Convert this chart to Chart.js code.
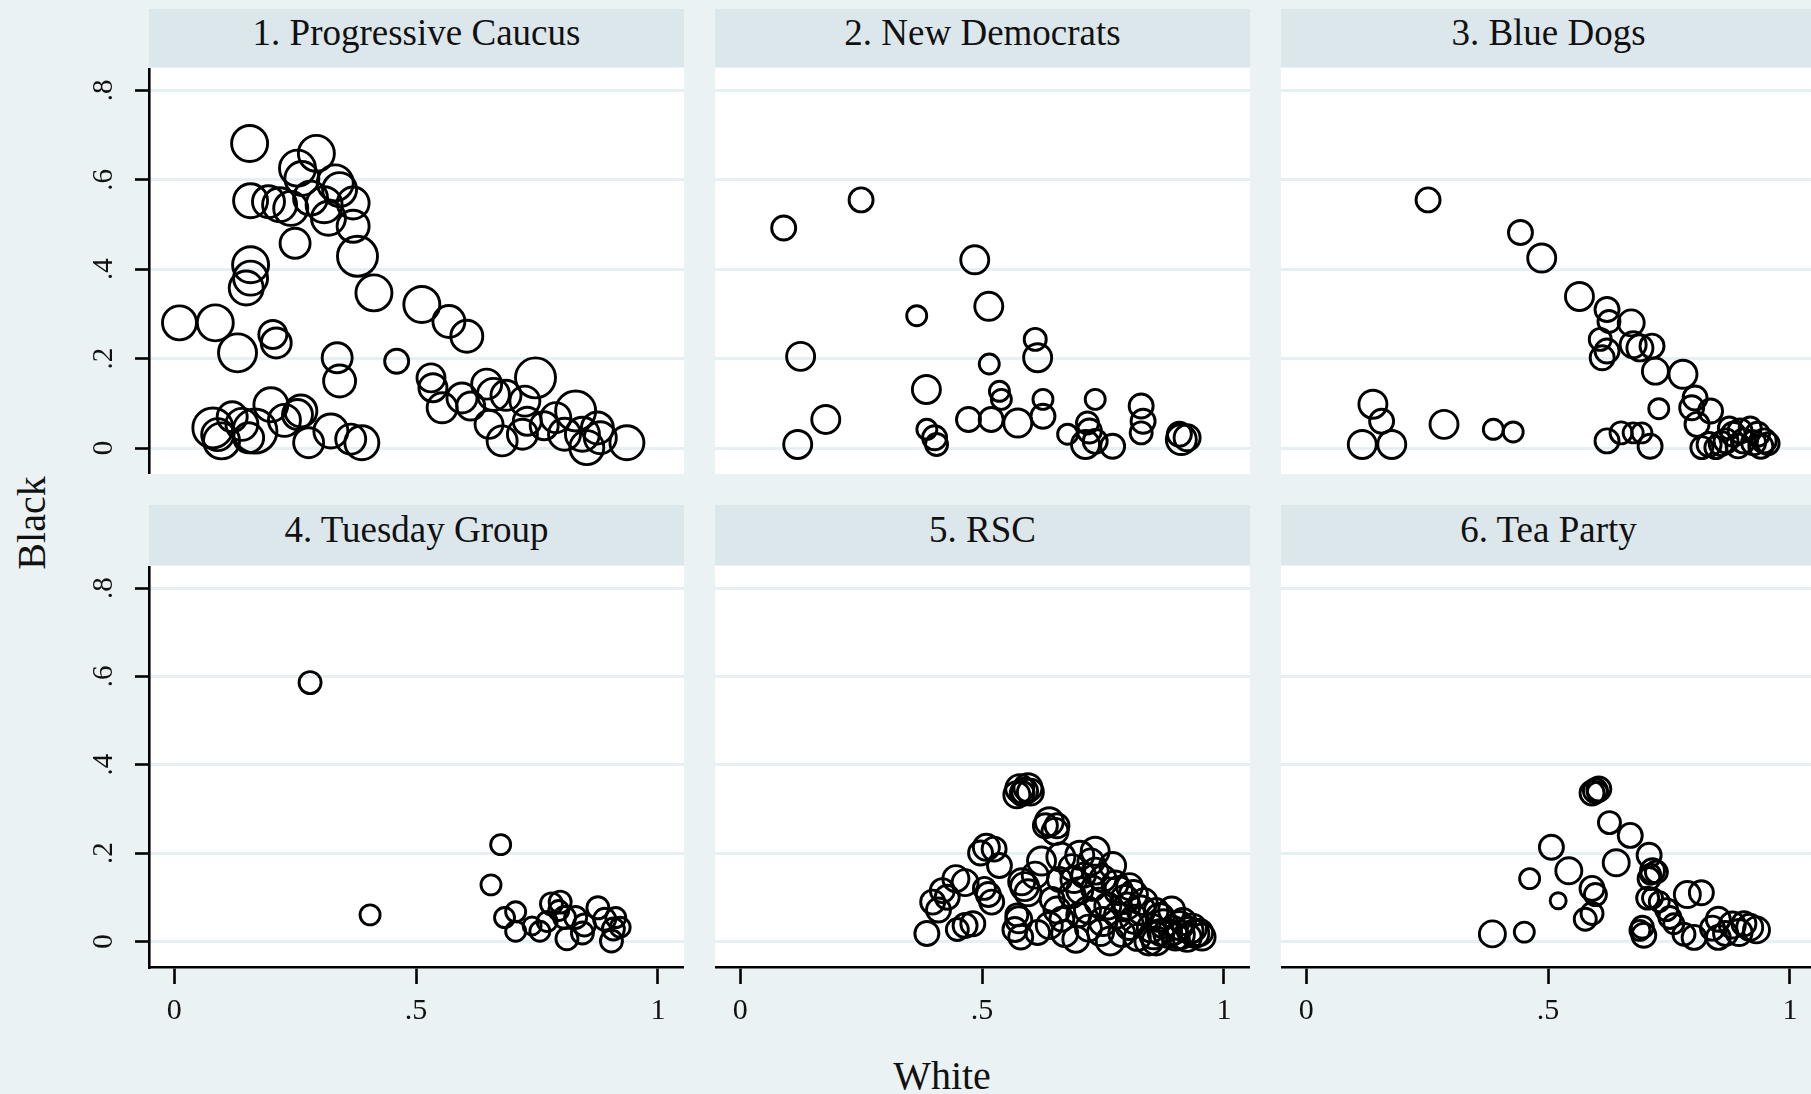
<!DOCTYPE html>
<html><head><meta charset="utf-8">
<script src="https://cdn.jsdelivr.net/npm/chart.js@4.4.0/dist/chart.umd.min.js"></script>
<style>
html,body{margin:0;padding:0;width:1811px;height:1094px;overflow:hidden;background:#EAF2F3;font-family:"Liberation Serif",serif;}
.hdr{position:absolute;background:#DCE7EC;color:#111;text-align:center;font-size:37px;white-space:nowrap;}
.wrap{position:absolute;}
.axt{position:absolute;font-size:40px;line-height:40px;color:#111;white-space:nowrap;}
</style></head><body>
<div class="axt" id="ytitle" style="left:32px;top:523px;transform:translate(-50%,-50%) rotate(-90deg);">Black</div>
<div class="axt" id="xtitle" style="left:942px;top:1056px;transform:translateX(-50%);">White</div>
<script>
// ---------------- data ----------------
const panelTitles = ["1. Progressive Caucus", "2. New Democrats", "3. Blue Dogs", "4. Tuesday Group", "5. RSC", "6. Tea Party"];
const yTickValues = [0, 0.2, 0.4, 0.6, 0.8];
const yTickLabels = ["0", ".2", ".4", ".6", ".8"];
const xTickValues = [0, 0.5, 1];
const xTickLabels = ["0", ".5", "1"];
const xAxisTitle = "White";
const yAxisTitle = "Black";

// 1. Progressive Caucus
const progWhite = [0.156,0.294,0.255,0.264,0.333,0.342,0.158,0.195,0.218,0.241,0.282,0.310,0.370,0.319,0.370,0.250,0.379,0.158,0.158,0.149,0.413,0.011,0.085,0.131,0.204,0.211,0.337,0.342,0.460,0.512,0.568,0.605,0.531,0.535,0.554,0.595,0.646,0.613,0.660,0.747,0.651,0.678,0.720,0.725,0.730,0.789,0.830,0.807,0.844,0.853,0.881,0.936,0.080,0.098,0.090,0.140,0.154,0.167,0.200,0.255,0.262,0.278,0.324,0.365,0.388,0.686,0.765,0.875,0.228,0.120];
const progBlack = [0.681,0.659,0.626,0.603,0.593,0.578,0.553,0.551,0.544,0.536,0.559,0.544,0.548,0.514,0.496,0.458,0.429,0.410,0.380,0.358,0.347,0.280,0.280,0.213,0.254,0.235,0.202,0.150,0.194,0.321,0.283,0.250,0.157,0.135,0.090,0.112,0.143,0.094,0.120,0.157,0.053,0.016,0.031,0.105,0.060,0.068,0.083,0.031,0.031,0.001,0.023,0.012,0.045,0.016,0.030,0.053,0.023,0.038,0.097,0.075,0.083,0.012,0.038,0.020,0.012,0.118,0.050,0.045,0.062,0.070];
const progSize  = [18,18,18,17,18,17,17,16,17,17,17,18,16,17,16,15,20,18,17,17,18,17,18,19,14,15,15,16,12,18,16,16,14,14,15,15,15,14,16,20,14,15,15,15,14,15,20,16,17,17,16,17,20,18,16,16,15,22,17,15,16,15,17,15,17,15,14,16,16,15];

// 2. New Democrats
const newdemWhite = [0.090,0.250,0.485,0.514,0.365,0.125,0.515,0.610,0.615,0.385,0.536,0.540,0.626,0.626,0.177,0.119,0.386,0.402,0.406,0.472,0.519,0.574,0.677,0.718,0.734,0.714,0.734,0.770,0.829,0.833,0.829,0.912,0.908,0.924,0.722];
const newdemBlack = [0.492,0.555,0.421,0.317,0.296,0.205,0.188,0.243,0.202,0.131,0.127,0.109,0.109,0.071,0.064,0.008,0.042,0.023,0.008,0.064,0.064,0.056,0.031,0.056,0.109,0.008,0.015,0.004,0.094,0.060,0.034,0.019,0.031,0.023,0.038];
const newdemSize  = [12,12,14,14,10,14,10,11,14,14,10,10,10,12,14,14,10,12,11,12,12,14,10,11,10,14,12,12,12,12,11,15,12,13,12];

// 3. Blue Dogs
const bluedogWhite = [0.252,0.443,0.487,0.565,0.622,0.626,0.608,0.612,0.622,0.672,0.676,0.690,0.715,0.722,0.779,0.804,0.797,0.836,0.729,0.138,0.156,0.116,0.177,0.285,0.387,0.428,0.622,0.651,0.676,0.694,0.711,0.833,0.868,0.897,0.904,0.933,0.947,0.918,0.883,0.847,0.818,0.940,0.808,0.858,0.893,0.925,0.955,0.875];
const bluedogBlack = [0.555,0.482,0.425,0.339,0.310,0.283,0.243,0.202,0.217,0.280,0.231,0.224,0.228,0.172,0.165,0.112,0.090,0.083,0.088,0.098,0.060,0.008,0.008,0.053,0.042,0.036,0.016,0.034,0.034,0.034,0.004,0.008,0.016,0.038,0.016,0.031,0.016,0.045,0.031,0.001,0.001,0.004,0.053,0.010,0.005,0.012,0.010,0.045];
const bluedogSize  = [12,12,14,14,12,11,11,12,12,13,13,13,12,13,14,12,12,12,10,14,12,14,14,14,10,10,12,11,10,10,12,12,12,12,12,12,12,11,12,11,11,12,12,12,12,12,11,11];

// 4. Tuesday Group
const tuesWhite = [0.281,0.405,0.675,0.655,0.683,0.706,0.706,0.756,0.780,0.798,0.807,0.812,0.830,0.844,0.876,0.890,0.908,0.913,0.904,0.922,0.771,0.848,0.795,0.740];
const tuesBlack = [0.586,0.060,0.219,0.128,0.054,0.067,0.023,0.023,0.085,0.089,0.054,0.006,0.054,0.019,0.076,0.050,0.028,0.054,0.001,0.032,0.045,0.037,0.070,0.035];
const tuesSize  = [11,10,10,10,10,10,10,10,11,11,11,11,11,11,11,11,11,10,11,10,10,11,10,9];

// 5. RSC
const rscWhite = [0.578,0.588,0.595,0.583,0.600,0.572,0.639,0.651,0.631,0.655,0.509,0.525,0.497,0.623,0.663,0.702,0.734,0.770,0.686,0.536,0.446,0.465,0.418,0.398,0.410,0.428,0.513,0.520,0.505,0.588,0.582,0.595,0.465,0.481,0.386,0.449,0.568,0.576,0.580,0.572,0.639,0.655,0.671,0.694,0.645,0.702,0.718,0.742,0.750,0.765,0.782,0.813,0.805,0.829,0.845,0.868,0.884,0.908,0.924,0.940,0.892,0.860,0.821,0.789,0.750,0.805,0.734,0.710,0.760,0.686,0.780,0.720,0.850,0.870,0.900,0.915,0.835,0.730,0.660,0.700,0.800,0.860,0.930,0.950,0.875,0.895,0.910,0.935,0.855,0.815,0.795,0.775,0.725,0.690,0.745,0.665,0.615,0.610,0.955];
const rscBlack = [0.346,0.340,0.348,0.335,0.338,0.332,0.271,0.249,0.262,0.262,0.213,0.209,0.200,0.182,0.191,0.195,0.204,0.172,0.167,0.172,0.142,0.133,0.115,0.089,0.071,0.100,0.106,0.089,0.120,0.124,0.135,0.110,0.036,0.040,0.018,0.027,0.027,0.049,0.010,0.060,0.036,0.071,0.018,0.005,0.095,0.115,0.071,0.089,0.045,0.001,0.115,0.106,0.036,0.071,0.001,0.054,0.018,0.036,0.009,0.018,0.071,0.001,0.009,0.018,0.142,0.124,0.159,0.150,0.080,0.106,0.060,0.030,0.030,0.020,0.010,0.045,0.090,0.120,0.140,0.060,0.080,0.070,0.025,0.020,0.040,0.025,0.015,0.030,0.015,0.050,0.095,0.130,0.180,0.140,0.020,0.050,0.020,0.150,0.010];
const rscSize  = [14,13,14,12,13,13,14,13,12,12,13,12,12,14,14,14,14,13,13,12,13,13,12,12,12,12,12,12,11,14,13,13,12,12,12,11,12,13,12,11,13,13,13,13,12,13,13,14,14,14,14,14,14,14,14,14,14,14,14,14,13,14,13,13,13,13,13,12,13,13,13,13,14,13,13,13,13,12,12,12,13,12,13,13,14,14,14,14,14,14,14,13,13,13,13,12,12,13,13];

// 6. Tea Party
const teaWhite = [0.385,0.451,0.507,0.462,0.543,0.521,0.591,0.598,0.577,0.591,0.598,0.591,0.605,0.602,0.627,0.670,0.641,0.709,0.716,0.724,0.712,0.709,0.706,0.716,0.745,0.752,0.695,0.698,0.690,0.788,0.817,0.781,0.802,0.852,0.852,0.881,0.895,0.917,0.931,0.867,0.840,0.905,0.760,0.730];
const teaBlack = [0.017,0.021,0.213,0.142,0.160,0.092,0.120,0.106,0.050,0.063,0.341,0.336,0.345,0.338,0.269,0.240,0.178,0.195,0.160,0.157,0.152,0.142,0.098,0.098,0.072,0.054,0.032,0.014,0.025,0.106,0.110,0.016,0.009,0.050,0.009,0.037,0.020,0.032,0.026,0.018,0.030,0.040,0.040,0.090];
const teaSize  = [13,10,12,10,13,8,12,11,11,11,12,12,12,10,11,12,13,12,12,11,10,11,11,10,11,11,11,12,10,13,12,11,12,12,12,13,13,13,13,12,12,12,10,10];

const panelWhite = [progWhite, newdemWhite, bluedogWhite, tuesWhite, rscWhite, teaWhite];
const panelBlack = [progBlack, newdemBlack, bluedogBlack, tuesBlack, rscBlack, teaBlack];
const panelSize  = [progSize, newdemSize, bluedogSize, tuesSize, rscSize, teaSize];

// ---------------- layout ----------------
const PLOT_W = 535;
const colLeft = [149, 715, 1281];
const rowTop = [68, 566];
const rowH = [406, 401];
const hdrTop = [9, 505];
const hdrH = [58, 60];
const Y_AXIS_W = 149;
const X_AXIS_H = 72;
const FONT = "Liberation Serif";

document.getElementById('ytitle').textContent = yAxisTitle;
document.getElementById('xtitle').textContent = xAxisTitle;

const whiteBg = {
  id: 'whiteBg',
  beforeDraw(chart) {
    const {ctx, chartArea: a} = chart;
    ctx.save();
    ctx.fillStyle = '#ffffff';
    ctx.fillRect(a.left, a.top, a.right - a.left, a.bottom - a.top);
    ctx.restore();
  }
};

function zeroPad(s) { s.paddingLeft = 0; s.paddingRight = 0; s.paddingTop = 0; s.paddingBottom = 0; }

for (let i = 0; i < 6; i++) {
  const r = Math.floor(i / 3), c = i % 3;
  const h = document.createElement('div');
  h.className = 'hdr';
  h.style.left = colLeft[c] + 'px';
  h.style.top = hdrTop[r] + 'px';
  h.style.width = PLOT_W + 'px';
  h.style.height = hdrH[r] + 'px';
  h.style.lineHeight = (hdrH[r] - 10) + 'px';
  h.textContent = panelTitles[i];
  document.body.appendChild(h);

  const left = c === 0 ? 0 : colLeft[c];
  const width = c === 0 ? colLeft[0] + PLOT_W : PLOT_W;
  const height = rowH[r] + (r === 1 ? X_AXIS_H : 0);
  const wrap = document.createElement('div');
  wrap.className = 'wrap';
  wrap.style.left = left + 'px';
  wrap.style.top = rowTop[r] + 'px';
  wrap.style.width = width + 'px';
  wrap.style.height = height + 'px';
  const cv = document.createElement('canvas');
  cv.width = width; cv.height = height;
  cv.style.width = width + 'px'; cv.style.height = height + 'px';
  wrap.appendChild(cv);
  document.body.appendChild(wrap);

  const pts = panelWhite[i].map((x, k) => ({x: x, y: panelBlack[i][k], r: panelSize[i][k]}));

  new Chart(cv, {
    type: 'bubble',
    data: {datasets: [{
      data: pts,
      backgroundColor: 'rgba(0,0,0,0)',
      borderColor: '#000',
      borderWidth: 2.9,
      hoverBorderWidth: 2.9,
      hoverRadius: 0
    }]},
    options: {
      responsive: false,
      animation: false,
      events: [],
      layout: {padding: 0, autoPadding: false},
      plugins: {legend: {display: false}, tooltip: {enabled: false}, title: {display: false}},
      scales: {
        x: {
          type: 'linear', position: 'bottom', min: -0.052, max: 1.054,
          display: r === 1,
          afterBuildTicks: s => { s.ticks = xTickValues.map(v => ({value: v})); },
          afterFit: s => { s.height = r === 1 ? X_AXIS_H : 0; zeroPad(s); },
          grid: {drawOnChartArea: false, drawTicks: true, tickLength: 17, tickColor: '#000', tickWidth: 2.6, color: '#000'},
          border: {display: true, color: '#000', width: 2.6},
          ticks: {
            autoSkip: false, minRotation: 0, maxRotation: 0, padding: 9, color: '#111',
            font: {family: FONT, size: 30},
            callback: v => { const k = xTickValues.indexOf(v); return k >= 0 ? xTickLabels[k] : ''; }
          }
        },
        y: {
          type: 'linear', position: 'left', min: -0.058, max: 0.85,
          display: true,
          afterBuildTicks: s => { s.ticks = yTickValues.map(v => ({value: v})); },
          afterFit: s => { s.width = c === 0 ? Y_AXIS_W : 0; zeroPad(s); },
          grid: {drawOnChartArea: true, color: '#E6EFF2', lineWidth: 3, drawTicks: c === 0, tickLength: 14, tickColor: '#000', tickWidth: 2.6},
          border: {display: c === 0, color: '#000', width: 2.6},
          ticks: {
            display: c === 0, autoSkip: false, minRotation: 90, maxRotation: 90, crossAlign: 'center',
            padding: 20, color: '#111', font: {family: FONT, size: 29},
            callback: v => { const k = yTickValues.indexOf(v); return k >= 0 ? yTickLabels[k] : ''; }
          }
        }
      }
    },
    plugins: [whiteBg]
  });
}
</script>
</body></html>
